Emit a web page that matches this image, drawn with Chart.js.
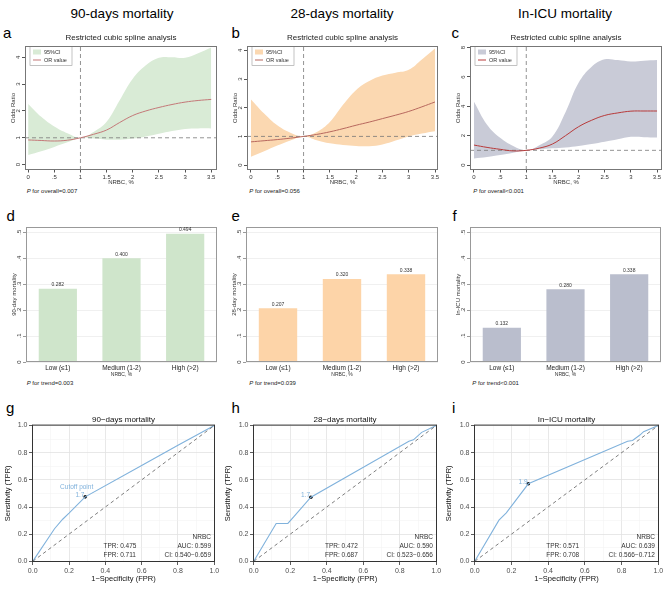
<!DOCTYPE html>
<html>
<head>
<meta charset="utf-8">
<title>NRBC and mortality</title>
<script src="https://cdn.jsdelivr.net/npm/chart.js@4.4.1/dist/chart.umd.min.js"></script>
<style>
  body { margin: 0; background: #fff; font-family: "Liberation Sans", Arial, sans-serif; }
  #fig { position: relative; width: 669px; height: 590px; overflow: hidden; }
  .panel { position: absolute; display: block; }
  .txt { position: absolute; white-space: nowrap; line-height: 1; color: #000; }
  .head { font-size: 13.5px; transform: translateX(-50%); }
  .letter { font-size: 15px; }
  .pval { font-size: 6px; color: #222; }
</style>
</head>
<body>
<div id="fig">
  <div class="txt head" style="left:122px;top:6.6px">90-days mortality</div>
  <div class="txt head" style="left:342px;top:6.6px">28-days mortality</div>
  <div class="txt head" style="left:565px;top:6.6px">In-ICU mortality</div>

  <div class="txt letter" style="left:3px;top:25.3px">a</div>
  <div class="txt letter" style="left:231.5px;top:25.3px">b</div>
  <div class="txt letter" style="left:451.5px;top:25.3px">c</div>
  <div class="txt letter" style="left:6.5px;top:207.5px">d</div>
  <div class="txt letter" style="left:231.5px;top:207.5px">e</div>
  <div class="txt letter" style="left:452.5px;top:207.5px">f</div>
  <div class="txt letter" style="left:6px;top:400.3px">g</div>
  <div class="txt letter" style="left:231.5px;top:400.3px">h</div>
  <div class="txt letter" style="left:452px;top:400.3px">i</div>

  <div class="txt pval" style="left:26.7px;top:187.5px"><i>P</i> for overall=0.007</div>
  <div class="txt pval" style="left:249.3px;top:187.5px"><i>P</i> for overall=0.056</div>
  <div class="txt pval" style="left:473.3px;top:187.5px"><i>P</i> for overall&lt;0.001</div>
  <div class="txt pval" style="left:26.7px;top:379.5px"><i>P</i> for trend=0.003</div>
  <div class="txt pval" style="left:249.3px;top:379.5px"><i>P</i> for trend=0.039</div>
  <div class="txt pval" style="left:472.3px;top:379.5px"><i>P</i> for trend&lt;0.001</div>

  <canvas id="a" class="panel" width="223" height="160" style="left:0;top:30px"></canvas>
  <canvas id="b" class="panel" width="222" height="160" style="left:222px;top:30px"></canvas>
  <canvas id="c" class="panel" width="224" height="160" style="left:445px;top:30px"></canvas>
  <canvas id="d" class="panel" width="223" height="190" style="left:0;top:200px"></canvas>
  <canvas id="e" class="panel" width="224" height="190" style="left:220px;top:200px"></canvas>
  <canvas id="f" class="panel" width="225" height="190" style="left:444px;top:200px"></canvas>
  <canvas id="g" class="panel" width="222" height="190" style="left:0;top:400px"></canvas>
  <canvas id="h" class="panel" width="224" height="190" style="left:220px;top:400px"></canvas>
  <canvas id="i" class="panel" width="228" height="190" style="left:441px;top:400px"></canvas>
</div>
<script>
// restricted cubic spline, odds ratio vs NRBC (%)
const splineX = [0, 0.25, 0.5, 0.75, 1, 1.25, 1.5, 1.75, 2, 2.25, 2.5, 2.75, 3, 3.25, 3.5];
const or90 = [0.92, 0.90, 0.88, 0.91, 1.0, 1.13, 1.29, 1.57, 1.83, 2.0, 2.13, 2.24, 2.33, 2.39, 2.43];
const hi90 = [2.26, 1.78, 1.42, 1.17, 1.0, 1.22, 1.6, 2.4, 3.2, 3.7, 3.98, 4.0, 3.98, 4.15, 4.36];
const lo90 = [0.36, 0.5, 0.66, 0.83, 1.0, 0.97, 0.93, 0.93, 0.97, 1.05, 1.15, 1.25, 1.33, 1.35, 1.35];
const or28 = [0.81, 0.85, 0.89, 0.94, 1.0, 1.07, 1.16, 1.27, 1.39, 1.5, 1.62, 1.74, 1.87, 2.03, 2.2];
const hi28 = [2.29, 1.8, 1.39, 1.13, 1.0, 1.15, 1.5, 2.1, 2.62, 2.93, 3.12, 3.22, 3.32, 3.68, 4.06];
const lo28 = [0.29, 0.48, 0.68, 0.86, 1.0, 0.87, 0.76, 0.7, 0.67, 0.66, 0.72, 0.86, 1.0, 1.1, 1.18];
const orIcu = [1.36, 1.2, 1.07, 0.96, 1.0, 1.15, 1.43, 2.0, 2.61, 3.05, 3.38, 3.55, 3.67, 3.68, 3.68];
const hiIcu = [4.32, 2.75, 1.85, 1.3, 1.0, 1.35, 1.95, 3.6, 5.6, 6.7, 7.2, 7.15, 7.05, 7.1, 7.15];
const loIcu = [0.45, 0.55, 0.68, 0.84, 1.0, 1.07, 1.14, 1.2, 1.3, 1.43, 1.58, 1.75, 1.92, 1.9, 1.88];
const splineXTicks = [0, 0.5, 1, 1.5, 2, 2.5, 3, 3.5];
const splineXLabels = ['0', '.5', '1', '1.5', '2', '2.5', '3', '3.5'];
const orTicks = [0, 1, 2, 3, 4];
const orTicksIcu = [0, 2, 4, 6, 8];

// mortality by NRBC group
const groups = ['Low (\u22641)', 'Medium (1-2)', 'High (>2)'];
const rate90 = [0.282, 0.400, 0.494];
const rate28 = [0.207, 0.320, 0.338];
const rateIcu = [0.132, 0.280, 0.338];
const barYTicks = [0, 0.1, 0.2, 0.3, 0.4, 0.5];
const barYLabels = ['0', '.1', '.2', '.3', '.4', '.5'];

// ROC curves
const fpr90 = [0, 0.12, 0.165, 0.2, 0.289, 0.6, 0.8, 1];
const tpr90 = [0, 0.24, 0.31, 0.355, 0.475, 0.705, 0.855, 1];
const fpr28 = [0, 0.123, 0.187, 0.22, 0.313, 0.85, 0.875, 0.92, 1];
const tpr28 = [0, 0.279, 0.279, 0.33, 0.472, 0.885, 0.895, 0.95, 1];
const fprIcu = [0, 0.132, 0.172, 0.292, 0.833, 0.86, 0.9, 0.92, 1];
const tprIcu = [0, 0.303, 0.357, 0.571, 0.885, 0.89, 0.93, 0.955, 1];
const cutFpr = [0.289, 0.313, 0.292];
const cutTpr = [0.475, 0.472, 0.571];
const cutLabel = ['1.7', '1.7', '1.9'];
const tprText = ['0.475', '0.472', '0.571'];
const fprText = ['0.711', '0.687', '0.708'];
const aucText = ['0.599', '0.590', '0.639'];
const ciText = ['0.540\u22120.659', '0.523\u22120.656', '0.566\u22120.712'];
const rocTicks = [0, 0.1, 0.2, 0.3, 0.4, 0.5, 0.6, 0.7, 0.8, 0.9, 1];
const rocLabels = ['0.0', '', '0.2', '', '0.4', '', '0.6', '', '0.8', '', '1.0'];

const FONT = '"Liberation Sans", Arial, sans-serif';
Chart.defaults.font.family = FONT;
Chart.defaults.color = '#333';
Chart.defaults.animation = false;
Chart.defaults.plugins.legend.display = false;
Chart.defaults.plugins.tooltip.enabled = false;
Chart.defaults.elements.point.radius = 0;

const fixTicks = values => scale => { scale.ticks = values.map(v => ({ value: v })); };
const fixWidth = w => scale => { scale.width = w; };
const fixHeight = h => scale => { scale.height = h; };
const pts = (xs, ys) => xs.map((x, i) => ({ x: x, y: ys[i] }));

// frame, rotated stata y labels, legend box, bar labels, text notes
const decor = {
    id: 'decor',
    afterDatasetsDraw(chart, args, o) {
        const { ctx, chartArea: a, scales } = chart;
        ctx.save();
        (o.notes || []).forEach(n => {
            ctx.font = '6.5px ' + FONT;
            ctx.fillStyle = n.color || '#333';
            ctx.textAlign = n.align || 'left';
            ctx.textBaseline = 'middle';
            ctx.fillText(n.text, scales.x.getPixelForValue(n.x), scales.y.getPixelForValue(n.y));
        });
        if (o.legend) {
            const x0 = a.left + 5, y0 = a.top + 0.5;
            ctx.fillStyle = '#fff';
            ctx.fillRect(x0, y0, 42, 19);
            ctx.strokeStyle = '#999';
            ctx.lineWidth = 0.6;
            ctx.strokeRect(x0, y0, 42, 19);
            ctx.fillStyle = o.legend.band;
            ctx.fillRect(x0 + 3, y0 + 3, 8, 5);
            ctx.strokeStyle = o.legend.line;
            ctx.lineWidth = 1;
            ctx.beginPath();
            ctx.moveTo(x0 + 3, y0 + 13.5);
            ctx.lineTo(x0 + 11, y0 + 13.5);
            ctx.stroke();
            ctx.fillStyle = '#333';
            ctx.font = '5.5px ' + FONT;
            ctx.textAlign = 'left';
            ctx.textBaseline = 'middle';
            ctx.fillText('95%CI', x0 + 14, y0 + 5.5);
            ctx.fillText('OR value', x0 + 14, y0 + 13.5);
        }
        ctx.strokeStyle = o.frame || '#666';
        ctx.lineWidth = o.frameWidth || 1;
        ctx.strokeRect(a.left + 0.5, a.top + 0.5, a.width - 1, a.height - 1);
        if (o.barLabels) {
            ctx.font = '5px ' + FONT;
            ctx.fillStyle = '#333';
            ctx.textAlign = 'center';
            ctx.textBaseline = 'bottom';
            const vals = chart.data.datasets[0].data;
            chart.getDatasetMeta(0).data.forEach((el, i) => ctx.fillText(vals[i].toFixed(3), el.x, el.y - 1.5));
        }
        if (o.yLabels) {
            ctx.font = '6px ' + FONT;
            ctx.fillStyle = '#333';
            ctx.textAlign = 'center';
            ctx.textBaseline = 'alphabetic';
            scales.y.ticks.forEach((t, i) => {
                ctx.save();
                ctx.translate(a.left - 5.5, scales.y.getPixelForValue(t.value));
                ctx.rotate(-Math.PI / 2);
                ctx.fillText(o.yLabels[i], 0, 0);
                ctx.restore();
            });
        }
        ctx.restore();
    }
};

function splineChart(id, orv, lo, hi, yTicks, yMin, yMax, xMin, xMax, band, line, padRight) {
    const ref = { borderColor: '#777', borderWidth: 0.8, borderDash: [4, 3], fill: false };
    return new Chart(document.getElementById(id), {
        type: 'line',
        data: {
            datasets: [
                { data: pts(splineX, hi), borderWidth: 0, backgroundColor: band, fill: '+1', tension: 0.4 },
                { data: pts(splineX, lo), borderWidth: 0, fill: false, tension: 0.4 },
                { data: pts(splineX, orv), borderColor: line, borderWidth: 1, fill: false, tension: 0.4 },
                Object.assign({ data: [{ x: 1, y: yMin }, { x: 1, y: yMax }] }, ref),
                Object.assign({ data: [{ x: xMin, y: 1 }, { x: xMax, y: 1 }] }, ref)
            ]
        },
        options: {
            responsive: false,
            layout: { padding: { right: padRight } },
            plugins: {
                filler: { drawTime: 'beforeDatasetsDraw' },
                title: {
                    display: true, text: 'Restricted cubic spline analysis', fullSize: false,
                    color: '#222', font: { size: 8, weight: 'normal' }, padding: { top: 3, bottom: 3.4 }
                },
                decor: { legend: { band: band, line: line }, yLabels: yTicks.map(String), frame: '#777' }
            },
            scales: {
                x: {
                    type: 'linear', min: xMin, max: xMax,
                    afterBuildTicks: fixTicks(splineXTicks), afterFit: fixHeight(20),
                    grid: { drawOnChartArea: false, tickLength: 2.5, tickColor: '#555' },
                    border: { display: false },
                    ticks: { autoSkip: false, maxRotation: 0, padding: 1, font: { size: 6 }, color: '#333', callback: (v, i) => splineXLabels[i] },
                    title: { display: true, text: 'NRBC, %', font: { size: 6 }, color: '#333', padding: { top: 0, bottom: 4.4 } }
                },
                y: {
                    min: yMin, max: yMax,
                    afterBuildTicks: fixTicks(yTicks), afterFit: fixWidth(25),
                    grid: { drawOnChartArea: false, tickLength: 3, tickColor: '#555' },
                    border: { display: false },
                    ticks: { display: false, autoSkip: false },
                    title: { display: true, text: 'Odds Ratio', font: { size: 6 }, color: '#333', padding: { top: 9.7, bottom: 0 } }
                }
            }
        },
        plugins: [decor]
    });
}

function barChart(id, rates, color, yTitle, padRight) {
    return new Chart(document.getElementById(id), {
        type: 'bar',
        data: {
            labels: groups,
            datasets: [{ data: rates, backgroundColor: color, barPercentage: 0.6, categoryPercentage: 1 }]
        },
        options: {
            responsive: false,
            layout: { padding: { top: 27, right: padRight } },
            plugins: { decor: { barLabels: true, yLabels: barYLabels, frame: '#999' } },
            scales: {
                x: {
                    afterFit: fixHeight(28),
                    grid: { display: false, drawTicks: false },
                    border: { display: false },
                    ticks: { autoSkip: false, maxRotation: 0, padding: 2, font: { size: 6.5 }, color: '#222' },
                    title: { display: true, text: 'NRBC, %', font: { size: 5 }, color: '#333', padding: { top: 0, bottom: 12 } }
                },
                y: {
                    min: 0, max: 0.52,
                    afterBuildTicks: fixTicks(barYTicks), afterFit: fixWidth(26),
                    grid: { color: '#e6e6e6', lineWidth: 0.6, tickColor: '#555', tickLength: 3 },
                    border: { display: false },
                    ticks: { display: false, autoSkip: false },
                    title: { display: true, text: yTitle, font: { size: 6 }, color: '#333', padding: { top: 10.4, bottom: 0 } }
                }
            }
        },
        plugins: [decor]
    });
}

function rocChart(id, k, fpr, tpr, title, padRight, withCaption) {
    const blue = '#80b2dc';
    const notes = [
        { x: cutFpr[k] - 0.004, y: cutTpr[k] + 0.012, text: cutLabel[k], align: 'right', color: blue },
        { x: 0.39, y: 0.115, text: 'TPR: ' + tprText[k] },
        { x: 0.39, y: 0.042, text: 'FPR: ' + fprText[k] },
        { x: 0.982, y: 0.18, text: 'NRBC', align: 'right' },
        { x: 0.982, y: 0.115, text: 'AUC: ' + aucText[k], align: 'right' },
        { x: 0.982, y: 0.042, text: 'CI: ' + ciText[k], align: 'right' }
    ];
    if (withCaption) notes.push({ x: cutFpr[k] - 0.047, y: cutTpr[k] + 0.068, text: 'Cutoff point', align: 'center', color: blue });
    const grid = {
        color: c => (c.index % 2 === 0 ? '#e2e2e2' : '#f0f0f0'),
        lineWidth: c => (c.index % 2 === 0 ? 0.8 : 0.5),
        tickColor: c => (c.index % 2 === 0 ? '#333' : 'rgba(0,0,0,0)'),
        tickLength: 3
    };
    const ticks = { autoSkip: false, maxRotation: 0, padding: 1.5, font: { size: 7 }, color: '#4d4d4d', callback: (v, i) => rocLabels[i] };
    return new Chart(document.getElementById(id), {
        type: 'line',
        data: {
            datasets: [
                { data: [{ x: 0, y: 0 }, { x: 1, y: 1 }], borderColor: '#6f6f6f', borderWidth: 0.9, borderDash: [3.5, 3] },
                { data: pts(fpr, tpr), borderColor: blue, borderWidth: 1.1, tension: 0 },
                { data: [{ x: cutFpr[k], y: cutTpr[k] }], showLine: false, pointRadius: 1.8, pointBackgroundColor: '#111', pointBorderWidth: 0 }
            ]
        },
        options: {
            responsive: false,
            layout: { padding: { top: 14.5, right: padRight } },
            plugins: {
                title: { display: true, text: title, fullSize: false, color: '#111', font: { size: 8, weight: 'normal' }, padding: { top: 0, bottom: 0.5 } },
                decor: { notes: notes, frame: '#333' }
            },
            scales: {
                x: {
                    type: 'linear', min: -0.004, max: 1.004,
                    afterBuildTicks: fixTicks(rocTicks), afterFit: fixHeight(28),
                    grid: grid, border: { display: false }, ticks: ticks,
                    title: { display: true, text: '1\u2212Specificity (FPR)', font: { size: 7.5 }, color: '#111', padding: { top: 0, bottom: 6.5 } }
                },
                y: {
                    type: 'linear', min: -0.005, max: 1.007,
                    afterBuildTicks: fixTicks(rocTicks), afterFit: fixWidth(id === 'g' ? 32 : 33),
                    grid: grid, border: { display: false }, ticks: ticks,
                    title: { display: true, text: 'Sensitivity (TPR)', font: { size: 7.5 }, color: '#111', padding: { top: 3, bottom: 0 } }
                }
            }
        },
        plugins: [decor]
    });
}

splineChart('a', or90, lo90, hi90, orTicks, -0.2, 4.42, -0.06, 3.61, '#d9ebd6', '#c47878', 6);
splineChart('b', or28, lo28, hi28, orTicks, -0.17, 4.15, -0.076, 3.557, '#fbd8b1', '#b8685e', 6);
splineChart('c', orIcu, loIcu, hiIcu, orTicksIcu, -0.34, 8.11, -0.076, 3.595, '#c9cbd7', '#b83a3a', 7);

barChart('d', rate90, '#cfe5cb', '90-day mortality', 6);
barChart('e', rate28, '#fdd4a8', '28-day mortality', 6);
barChart('f', rateIcu, '#babecd', 'In-ICU mortality', 8);

rocChart('g', 0, fpr90, tpr90, '90\u2212days mortality', 7, true);
rocChart('h', 1, fpr28, tpr28, '28\u2212days mortality', 7, false);
rocChart('i', 2, fprIcu, tprIcu, 'In\u2212ICU mortality', 10, false);
</script>
</body>
</html>
